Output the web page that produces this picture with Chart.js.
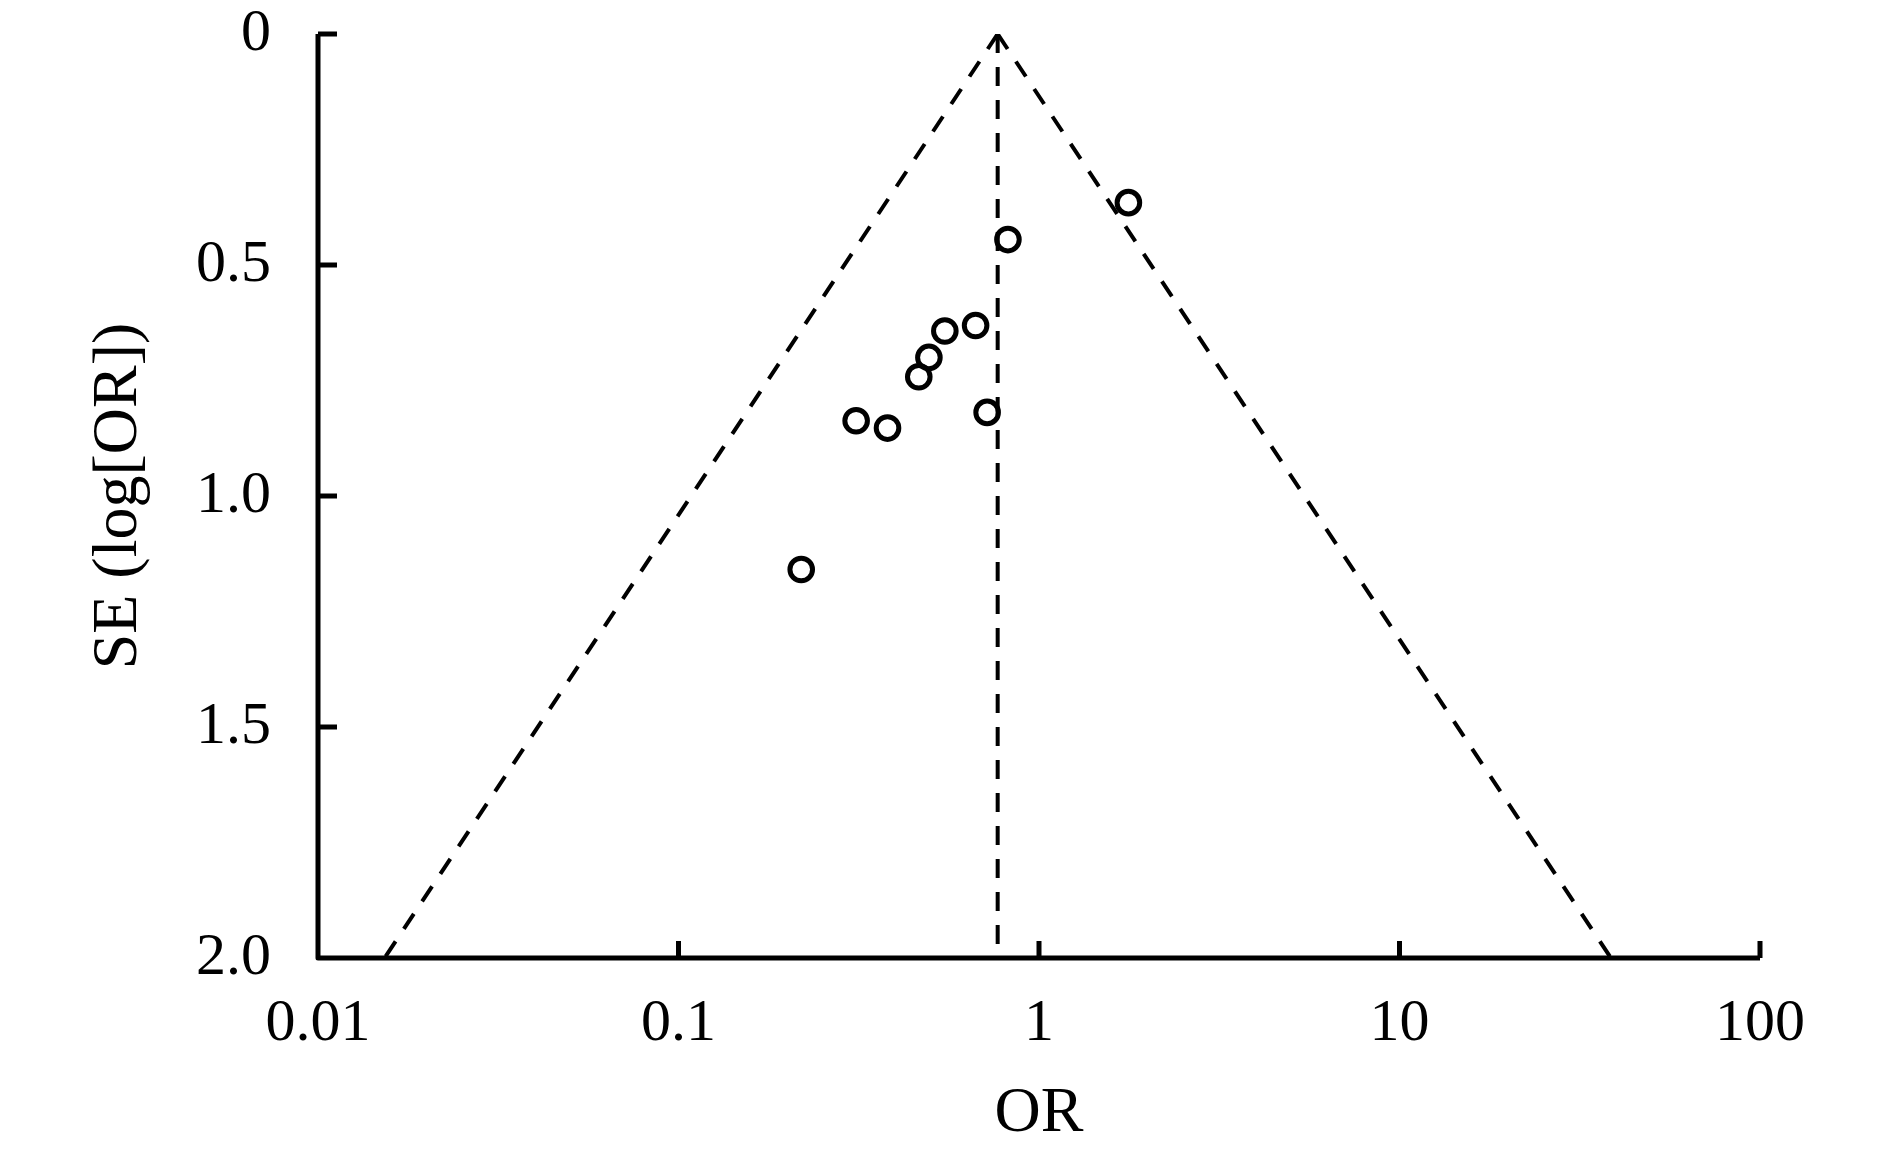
<!DOCTYPE html>
<html>
<head>
<meta charset="utf-8">
<title>Funnel plot</title>
<script src="https://cdn.jsdelivr.net/npm/chart.js@4.4.0/dist/chart.umd.min.js"></script>
<style>
    html, body { margin: 0; padding: 0; background: #fff; }
    #wrap { width: 1890px; height: 1159px; }
</style>
</head>
<body>
<div id="wrap"><canvas id="funnel" width="1890" height="1159"></canvas></div>
<script>
(function () {
    "use strict";

    // Studies: odds ratio and standard error of log OR
    var orValues = [1.77, 0.82, 0.667, 0.548, 0.495, 0.464, 0.718, 0.311, 0.380, 0.219];
    var seValues = [0.365, 0.445, 0.631, 0.643, 0.700, 0.742, 0.819, 0.837, 0.853, 1.159];

    // Pooled OR and 95% limits, read at SE = 0 and SE = 2.0
    var funnelSE = [0, 2.0];
    var pooledLine = [0.768, 0.768];
    var lowerLimit = [0.768, 0.0153];
    var upperLimit = [0.768, 38.6];

    // Axis ticks
    var xTicks = [0.01, 0.1, 1, 10, 100];
    var xTickLabels = ['0.01', '0.1', '1', '10', '100'];
    var yTicks = [0, 0.5, 1.0, 1.5, 2.0];
    var yTickLabels = ['0', '0.5', '1.0', '1.5', '2.0'];

    var serif = "'Liberation Serif', 'Times New Roman', serif";

    function pairs(xs, ys) {
        return xs.map(function (v, i) { return {x: v, y: ys[i]}; });
    }

    // Axis lines with inward ticks
    var axisFrame = {
        id: 'axisFrame',
        afterDatasetsDraw: function (chart) {
            var ctx = chart.ctx;
            var xs = chart.scales.x, ys = chart.scales.y;
            var left = xs.getPixelForValue(xTicks[0]);
            var right = xs.getPixelForValue(xTicks[xTicks.length - 1]);
            var top = ys.getPixelForValue(yTicks[0]);
            var bottom = ys.getPixelForValue(yTicks[yTicks.length - 1]);
            ctx.save();
            ctx.strokeStyle = '#000';
            ctx.lineWidth = 5;
            ctx.lineJoin = 'round';
            ctx.lineCap = 'butt';
            ctx.beginPath();
            ctx.moveTo(left, top);
            ctx.lineTo(left, bottom);
            ctx.lineTo(right, bottom);
            ctx.stroke();
            ctx.beginPath();
            yTicks.slice(0, -1).forEach(function (v) {
                var y = ys.getPixelForValue(v);
                ctx.moveTo(left, y);
                ctx.lineTo(left + 19, y);
            });
            xTicks.slice(1).forEach(function (v) {
                var x = xs.getPixelForValue(v);
                ctx.moveTo(x, bottom);
                ctx.lineTo(x, bottom - 17);
            });
            ctx.stroke();
            ctx.restore();
        }
    };

    var ctx = document.getElementById('funnel').getContext('2d');
    var funnelChart = new Chart(ctx, {
        type: 'scatter',
        data: {
            datasets: [{
                label: 'Studies',
                data: pairs(orValues, seValues),
                pointRadius: 11.3,
                pointBorderWidth: 5,
                pointBorderColor: '#000',
                pointBackgroundColor: 'rgba(0,0,0,0)',
                order: 0
            }, {
                label: 'Pooled',
                type: 'line',
                data: pairs(pooledLine, funnelSE),
                borderColor: '#000',
                borderWidth: 4,
                borderDash: [19, 14],
                pointRadius: 0,
                fill: false,
                order: 1
            }, {
                label: 'Lower',
                type: 'line',
                data: pairs(lowerLimit, funnelSE),
                borderColor: '#000',
                borderWidth: 4,
                borderDash: [18, 15],
                pointRadius: 0,
                fill: false,
                order: 1
            }, {
                label: 'Upper',
                type: 'line',
                data: pairs(upperLimit, funnelSE),
                borderColor: '#000',
                borderWidth: 4,
                borderDash: [18, 15],
                pointRadius: 0,
                fill: false,
                order: 1
            }]
        },
        options: {
            responsive: false,
            devicePixelRatio: 1,
            animation: false,
            layout: { padding: { top: 34, right: 130, bottom: 0, left: 0 } },
            plugins: {
                legend: { display: false },
                tooltip: { enabled: false }
            },
            scales: {
                x: {
                    type: 'logarithmic',
                    min: 0.01,
                    max: 100,
                    grid: { display: false, drawTicks: false },
                    border: { display: false },
                    afterBuildTicks: function (scale) {
                        scale.ticks = xTicks.map(function (v) { return {value: v}; });
                    },
                    afterFit: function (scale) {
                        scale.height = 201;
                        scale.paddingLeft = 0;
                        scale.paddingRight = 0;
                    },
                    ticks: {
                        autoSkip: false,
                        maxRotation: 0,
                        padding: 36,
                        color: '#000',
                        font: { family: serif, size: 60, lineHeight: 1 },
                        callback: function (value, index) { return xTickLabels[index]; }
                    },
                    title: {
                        display: true,
                        text: 'OR',
                        color: '#000',
                        font: { family: serif, size: 64, lineHeight: 1.2 },
                        padding: { top: 0, bottom: 6 }
                    }
                },
                y: {
                    type: 'linear',
                    reverse: true,
                    min: 0,
                    max: 2,
                    grid: { display: false, drawTicks: false },
                    border: { display: false },
                    afterBuildTicks: function (scale) {
                        scale.ticks = yTicks.map(function (v) { return {value: v}; });
                    },
                    afterFit: function (scale) {
                        scale.width = 318;
                        scale.paddingTop = 0;
                        scale.paddingBottom = 0;
                    },
                    ticks: {
                        padding: 47,
                        color: '#000',
                        font: { family: serif, size: 60, lineHeight: 1 },
                        callback: function (value, index) { return yTickLabels[index]; }
                    },
                    title: {
                        display: true,
                        text: 'SE (log[OR])',
                        color: '#000',
                        font: { family: serif, size: 64, lineHeight: 1.2 },
                        padding: { top: 81, bottom: 0 }
                    }
                }
            }
        },
        plugins: [axisFrame]
    });
})();
</script>
</body>
</html>
